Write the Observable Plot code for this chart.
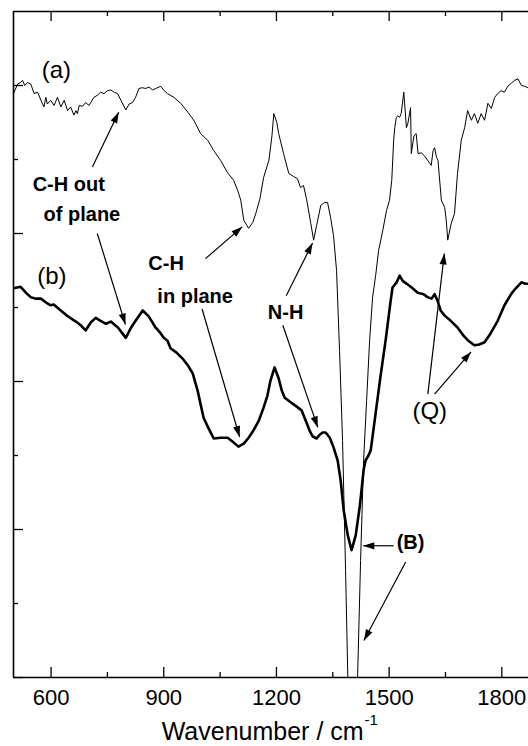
<!DOCTYPE html>
<html><head><meta charset="utf-8">
<script src="https://cdn.jsdelivr.net/npm/d3@7"></script>
<script src="https://cdn.jsdelivr.net/npm/@observablehq/plot@0.6"></script>
<style>
html,body{margin:0;padding:0;background:#fff;}
#chart svg{display:block;}
</style></head><body><div id="chart"></div>
<script>
// Spectrum (a): wavenumber (cm^-1) and transmittance (a.u.)
const wnA = [500,511,519,524,530,537,546,555,564,573,581,586,590,599,608,617,626,635,644,652,661,666,670,675,684,692,701,714,724,732,741,750,759,768,777,786,799,808,817,825,834,843,852,861,870,879,892,901,910,927,945,964,980,998,1017,1033,1051,1070,1086,1097,1105,1113,1126,1137,1145,1156,1166,1180,1188,1193,1201,1206,1219,1233,1246,1256,1264,1272,1280,1291,1299,1307,1318,1328,1336,1344,1352,1360,1368,1376,1384,1390,1395,1403,1411,1416,1424,1432,1440,1448,1456,1464,1472,1483,1493,1501,1507,1512,1515,1519,1523,1528,1532,1539,1546,1550,1557,1559,1566,1572,1577,1586,1594,1608,1612,1617,1621,1626,1630,1639,1648,1652,1656,1665,1674,1682,1692,1701,1709,1719,1727,1736,1745,1754,1763,1772,1781,1789,1798,1807,1816,1825,1834,1843,1852,1861,1869];
const tA = [7.89,8.02,8.04,8.07,8.00,8.04,8.02,7.89,7.91,7.80,7.71,7.84,7.75,7.80,7.73,7.84,7.71,7.80,7.66,7.71,7.60,7.66,7.62,7.73,7.72,7.77,7.73,7.84,7.87,7.91,7.89,7.93,7.94,7.91,7.89,7.80,7.67,7.75,7.77,7.84,7.96,7.97,7.96,7.98,7.94,7.96,7.99,7.93,7.89,7.84,7.76,7.64,7.53,7.35,7.26,7.12,6.99,6.82,6.72,6.58,6.45,6.18,6.07,6.15,6.27,6.47,6.76,6.99,7.32,7.62,7.50,7.35,7.08,6.81,6.77,6.74,6.62,6.65,6.47,6.15,5.91,6.11,6.38,6.42,6.42,6.22,5.97,5.50,4.42,3.20,1.45,0,-0.58,-1.12,-0.58,0,1.58,2.93,3.74,4.55,5.14,5.43,5.77,6.04,6.31,6.45,6.72,7.26,7.43,7.57,7.59,7.57,7.62,7.91,7.43,7.49,7.70,7.08,7.32,7.35,7.08,7.09,7.05,6.95,6.92,7.12,7.16,7.03,6.99,6.45,6.35,6.18,5.91,6.13,6.27,6.81,7.26,7.43,7.66,7.53,7.62,7.49,7.62,7.53,7.76,7.69,7.84,7.89,7.93,7.91,7.99,8.03,8.07,8.09,8.00,7.99,7.97];

// Spectrum (b)
const wnB = [500,519,533,546,559,573,586,599,607,626,645,666,679,692,706,719,732,746,759,778,799,812,825,844,860,878,892,900,910,918,934,950,964,977,990,1006,1020,1033,1051,1070,1083,1099,1113,1126,1139,1153,1166,1176,1184,1195,1206,1214,1222,1238,1254,1267,1278,1288,1296,1307,1315,1323,1331,1342,1352,1363,1371,1379,1390,1400,1411,1422,1432,1437,1445,1451,1464,1477,1491,1504,1509,1520,1528,1536,1547,1560,1576,1592,1602,1613,1621,1629,1637,1648,1664,1682,1698,1711,1727,1740,1754,1770,1789,1807,1826,1839,1852,1863,1871];
const tB = [5.26,5.28,5.20,5.14,5.12,5.12,5.07,5.03,5.04,4.96,4.88,4.81,4.76,4.69,4.80,4.86,4.82,4.78,4.81,4.73,4.59,4.72,4.82,4.96,4.88,4.73,4.65,4.59,4.55,4.45,4.39,4.31,4.22,4.11,3.88,3.51,3.36,3.23,3.24,3.24,3.19,3.12,3.16,3.24,3.34,3.47,3.65,3.81,4.01,4.19,4.04,3.88,3.78,3.72,3.66,3.61,3.47,3.34,3.26,3.23,3.28,3.31,3.31,3.24,3.11,2.93,2.66,2.26,1.92,1.72,1.92,2.32,2.80,2.93,3.00,3.07,3.57,4.07,4.57,5.09,5.27,5.34,5.43,5.36,5.32,5.27,5.20,5.18,5.14,5.12,5.18,5.09,4.96,4.89,4.82,4.73,4.62,4.55,4.49,4.50,4.53,4.65,4.82,5.03,5.19,5.27,5.34,5.32,5.32];

// Axis ticks
const xMajorTicks = [600, 900, 1200, 1500, 1800];
const xMinorTicks = [750, 1050, 1350, 1650];
const yMajorTicks = [0, 2, 4, 6, 8];
const yMinorTicks = [1, 3, 5, 7];
const xLabelMain = "Wavenumber / cm";
const xLabelSup = "-1";
const xLabelAt = 1432;

// Annotation labels
const regLabels = ["(a)", "(b)", "(Q)"];
const regLabelX = [575, 563, 1562];
const regLabelY = [8.21, 5.42, 3.60];
const boldLabels = ["C-H out", "of plane", "C-H", "in plane", "N-H", "(B)"];
const boldLabelX = [551, 580, 859, 883, 1177, 1520];
const boldLabelY = [6.66, 6.25, 5.60, 5.15, 4.93, 1.82];

// Annotation arrows (tail -> head), in data units
const arrowX1 = [710, 723, 1011, 1002, 1226, 1217, 1603, 1621, 1512, 1544];
const arrowY1 = [6.90, 6.00, 5.66, 4.98, 5.16, 4.76, 3.83, 3.83, 1.78, 1.56];
const arrowX2 = [780, 798, 1109, 1102, 1296, 1310, 1647, 1718, 1431, 1433];
const arrowY2 = [7.64, 4.77, 6.09, 3.25, 5.87, 3.38, 5.73, 4.40, 1.78, 0.50];

// Layout
const W = 528, H = 746, mL = 13, mR = 0, mT = 11, mB = 69;
const xDomain = [500, 1871], yDomain = [0, 9];
const plotW = W - mL - mR, plotH = H - mT - mB;
const kx = plotW / (xDomain[1] - xDomain[0]);
const ky = plotH / (yDomain[1] - yDomain[0]);
const FONT = '"Liberation Sans", Arial, Helvetica, sans-serif';

const dataA = wnA.map((w, i) => ({wn: w, t: tA[i]}));
const dataB = wnB.map((w, i) => ({wn: w, t: tB[i]}));
const regData = regLabels.map((s, i) => ({s, x: regLabelX[i], y: regLabelY[i]}));
const boldData = boldLabels.map((s, i) => ({s, x: boldLabelX[i], y: boldLabelY[i]}));
const arrows = arrowX1.map((x1, i) => ({x1, y1: arrowY1[i], x2: arrowX2[i], y2: arrowY2[i]}));

function headSymbol(angle) {
  const L = 11, w = 3.6, c = Math.cos(angle), s = Math.sin(angle);
  const p = (u, v) => [u * c - v * s, u * s + v * c];
  return {draw(ctx) {
    const a = p(-L, w), b = p(-L, -w);
    ctx.moveTo(0, 0); ctx.lineTo(a[0], a[1]); ctx.lineTo(b[0], b[1]); ctx.closePath();
  }};
}
const headMarks = arrows.map(a => {
  const ang = Math.atan2(-(a.y2 - a.y1) * ky, (a.x2 - a.x1) * kx);
  return Plot.dot([a], {x: "x2", y: "y2", r: 5, symbol: headSymbol(ang), fill: "black", stroke: "none"});
});

const chart = Plot.plot({
  width: W, height: H,
  marginLeft: mL, marginRight: mR, marginTop: mT, marginBottom: mB,
  style: {fontFamily: FONT, fontSize: "22px", background: "white", color: "black", overflow: "visible"},
  x: {domain: xDomain, ticks: xMajorTicks, tickSize: 0, tickPadding: 12, tickFormat: d => String(d), label: null},
  y: {domain: yDomain, axis: null},
  marks: [
    // frame (left, top, bottom)
    Plot.ruleY([yDomain[0]], {stroke: "black", strokeWidth: 1.6}),
    Plot.ruleY([yDomain[1]], {stroke: "black", strokeWidth: 1.6}),
    Plot.ruleX([xDomain[0]], {stroke: "black", strokeWidth: 1.6}),
    // inward ticks
    Plot.ruleX(xMajorTicks, {stroke: "black", strokeWidth: 1.3, insetTop: plotH - 10}),
    Plot.ruleX(xMinorTicks, {stroke: "black", strokeWidth: 1.3, insetTop: plotH - 5}),
    Plot.ruleX(xMajorTicks, {stroke: "black", strokeWidth: 1.3, insetBottom: plotH - 10}),
    Plot.ruleX(xMinorTicks, {stroke: "black", strokeWidth: 1.3, insetBottom: plotH - 5}),
    Plot.ruleY(yMajorTicks, {stroke: "black", strokeWidth: 1.3, insetRight: plotW - 10}),
    Plot.ruleY(yMinorTicks, {stroke: "black", strokeWidth: 1.3, insetRight: plotW - 5}),
    // spectra
    Plot.line(dataA, {x: "wn", y: "t", stroke: "black", strokeWidth: 1, clip: true}),
    Plot.line(dataB, {x: "wn", y: "t", stroke: "black", strokeWidth: 2.6, strokeLinejoin: "round", clip: true}),
    // x label
    Plot.text([xLabelMain], {x: () => xLabelAt, frameAnchor: "bottom", lineAnchor: "middle", dy: 54, text: d => d, textAnchor: "end", fontSize: 25, fill: "black"}),
    Plot.text([xLabelSup], {x: () => xLabelAt, frameAnchor: "bottom", lineAnchor: "middle", dy: 43, dx: 1, text: d => d, textAnchor: "start", fontSize: 15, fill: "black"}),
    // annotations
    Plot.link(arrows, {x1: "x1", y1: "y1", x2: "x2", y2: "y2", stroke: "black", strokeWidth: 1.2}),
    ...headMarks,
    Plot.text(regData, {x: "x", y: "y", text: "s", textAnchor: "start", fontSize: 24, fill: "black"}),
    Plot.text(boldData, {x: "x", y: "y", text: "s", textAnchor: "start", fontSize: 20, fontWeight: "bold", fill: "black"})
  ]
});
document.getElementById("chart").appendChild(chart);
</script>
</body></html>
